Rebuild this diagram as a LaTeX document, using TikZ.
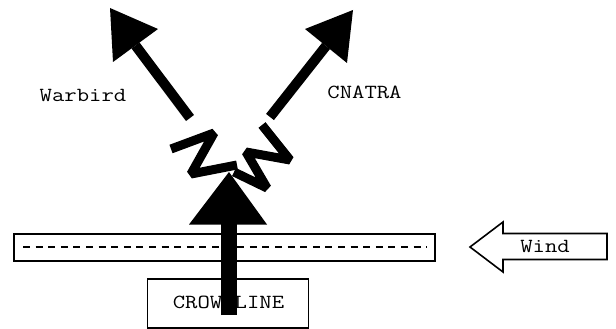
\documentclass[tikz,border=0pt]{standalone}
\usepackage{fontspec}
\newcommand{\wlbl}[1]{\scalebox{1.2}[1]{#1}}
\begin{document}
\begin{tikzpicture}[x=1pt,y=-1pt,
  lbl/.style={font=\ttfamily\fontsize{20}{20}\selectfont, inner sep=0pt, anchor=base},
  thin box/.style={draw=black, line width=1.6pt},
  zig/.style={draw=black, line width=9pt, line join=bevel, line cap=butt},
  shaft/.style={draw=black, line cap=butt}]
\useasboundingbox (0,0) rectangle (616,329);
% runway
\node[thin box, minimum width=421pt, minimum height=27pt, inner sep=0pt] (runway) at (224.5,247.5) {};
\draw[line width=1.8pt, dash pattern=on 7pt off 5.6pt] (23,247) coordinate (dl) -- (427,247) coordinate (dr);
% crow line box
\node[thin box, minimum width=161pt, minimum height=49pt, inner sep=0pt] (crow) at (228,303.5) {};
\node[lbl] (crowt) at (228.5,308) {\wlbl{CROW LINE}};
% wind arrow
\draw[thin box, fill=white] (607,233.5) -- (503,233.5) -- (503,222) -- (470,247) -- (503,272) -- (503,259.5) -- (607,259.5) -- cycle;
\node[lbl] (wind) at (545,252) {\wlbl{Wind}};
% labels
\node[lbl] (warbird) at (83,101) {\wlbl{Warbird}};
\node[lbl] (cnatra) at (364.5,99) {\wlbl{CNATRA}};
% zigzags
\draw[zig] (171,149) -- (214,133) -- (191,174) -- (237,165);
\draw[zig] (234,172) -- (267,188) -- (246,152) -- (290,160) -- (262,125);
% main arrow
\coordinate (mainbot) at (228.5,315);
\coordinate (mainbase) at (228.5,224);
\draw[shaft, line width=16pt] (mainbot) -- (mainbase);
\fill (229,172) -- (189,224.5) -- (267,224.5) -- cycle;
% warbird arrow
\coordinate (wbot) at (190,118);
\coordinate (wbase) at (135.5,45.5);
\draw[shaft, line width=10pt] (wbot) -- (wbase);
\fill (110,8) -- (113,62) -- (158,29) -- cycle;
% cnatra arrow
\coordinate (cbot) at (270,117);
\coordinate (cbase) at (326,46);
\draw[shaft, line width=10pt] (cbot) -- (cbase);
\fill (353,10) -- (305,29) -- (347,63) -- cycle;
\end{tikzpicture}
\end{document}
